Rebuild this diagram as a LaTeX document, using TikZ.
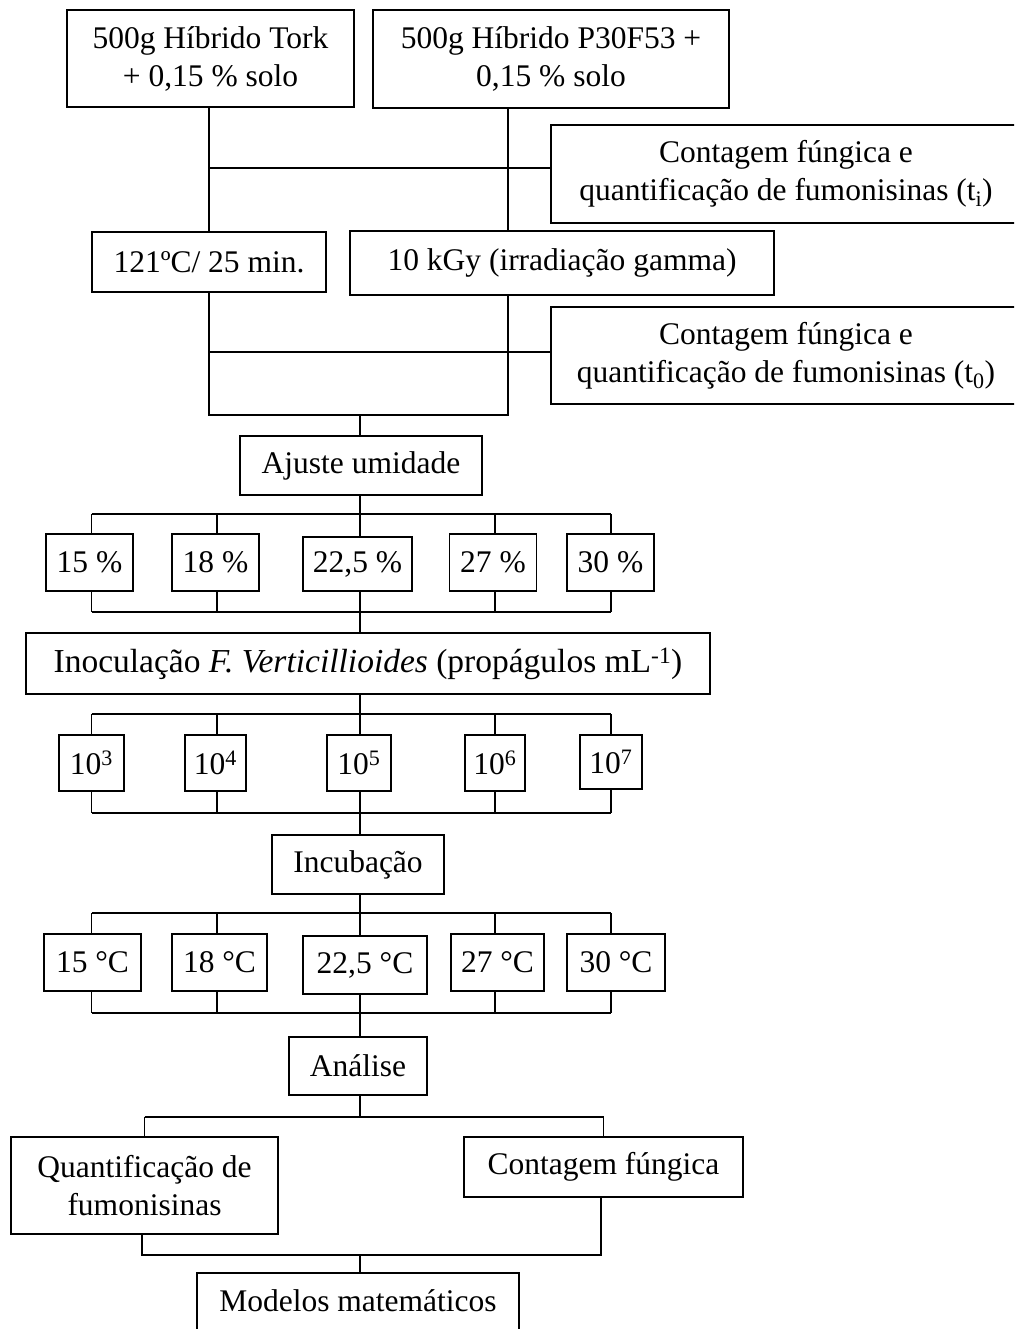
\documentclass[tikz,border=0pt]{standalone}
\usepackage{fontspec}
\setmainfont{Liberation Serif}
\begin{document}
\begin{tikzpicture}[x=1pt,y=-1pt,
  line width=1.6pt,
  every node/.style={font=\fontsize{31.5}{38}\selectfont},
  bx/.style={draw, line width=1.6pt, inner sep=0pt, align=center, minimum width=#1},
  bx/.default=10pt]
\useasboundingbox (0,0) rectangle (1014,1329);
\clip (0,0) rectangle (1014,1329);
% top boxes
\node[bx=287pt, minimum height=97pt] (A) at (210.5,58.5) {500g Híbrido Tork\\+ 0,15 \% solo};
\node[bx=356pt, minimum height=98pt] (B) at (551,59) {500g Híbrido P30F53 +\\0,15 \% solo};
\node[bx=470pt, minimum height=98pt] (C) at (786,174) {Contagem fúngica e\\quantificação de fumonisinas (t\textsubscript{i})};
\node[bx=234pt, minimum height=60pt] (D) at (209,262) {121ºC/ 25 min.};
\node[bx=424pt, minimum height=64pt] (E) at (562,263) {10 kGy (irradiação gamma)};
\node[bx=470pt, minimum height=97pt] (F) at (786,355.5) {Contagem fúngica e\\quantificação de fumonisinas (t\textsubscript{0})};
\node[bx=242pt, minimum height=59pt] (Aj) at (361,465.5) {Ajuste umidade};
% moisture
\node[bx=87pt, minimum height=57pt] (P1) at (89.5,562.5) {15 \%};
\node[bx=87pt, minimum height=57pt] (P2) at (215.5,562.5) {18 \%};
\node[bx=109pt, minimum height=54pt] (P3) at (357.5,564) {22,5 \%};
\node[bx=87pt, minimum height=57pt] (P4) at (493,562.5) {27 \%};
\node[bx=87pt, minimum height=57pt] (P5) at (610.5,562.5) {30 \%};
\node[bx=684pt, minimum height=61pt, font=\fontsize{33.5}{38}\selectfont] (In) at (368,663.5) {Inoculação \textit{F. Verticillioides} (propágulos mL\textsuperscript{-1})};
% concentrations
\node[bx=65pt, minimum height=56pt] (N3) at (91.5,763) {10\textsuperscript{3}};
\node[bx=61pt, minimum height=56pt] (N4) at (215.5,763) {10\textsuperscript{4}};
\node[bx=64.5pt, minimum height=56pt] (N5) at (359,763) {10\textsuperscript{5}};
\node[bx=60pt, minimum height=56pt] (N6) at (495,763) {10\textsuperscript{6}};
\node[bx=62pt, minimum height=54pt] (N7) at (611,762) {10\textsuperscript{7}};
\node[bx=172pt, minimum height=59pt] (Inc) at (358,864.5) {Incubação};
% temperatures
\node[bx=97pt, minimum height=57pt] (T1) at (92.5,962.5) {15 °C};
\node[bx=95pt, minimum height=57pt] (T2) at (219.5,962.5) {18 °C};
\node[bx=124pt, minimum height=58pt] (T3) at (365,965) {22,5 °C};
\node[bx=93pt, minimum height=57pt] (T4) at (497.5,962.5) {27 °C};
\node[bx=98pt, minimum height=57pt] (T5) at (616,962.5) {30 °C};
\node[bx=138pt, minimum height=58pt] (An) at (358,1066) {Análise};
\node[bx=267pt, minimum height=97pt] (Q) at (144.5,1185.5) {Quantificação de\\fumonisinas};
\node[bx=279pt, minimum height=60pt] (CF) at (603.5,1167) {Contagem fúngica};
\node[bx=322pt, minimum height=62pt] (Mo) at (358,1304) {\raisebox{7pt}{Modelos matemáticos}};
% coordinates
\coordinate (cA) at (209,0);
\coordinate (cB) at (508,0);
\coordinate (h1) at (0,168);
\coordinate (h2) at (0,352);
\coordinate (u) at (0,415);
\coordinate (ax) at (360,0);
\coordinate (k1) at (91.5,0);
\coordinate (k2) at (217,0);
\coordinate (k4) at (495,0);
\coordinate (k5) at (611,0);
\coordinate (b1) at (0,514);
\coordinate (b2) at (0,612);
\coordinate (b3) at (0,714);
\coordinate (b4) at (0,813);
\coordinate (b5) at (0,913);
\coordinate (b6) at (0,1013);
\coordinate (b7) at (0,1117);
\coordinate (b8) at (0,1255);
\coordinate (qb) at (142,0);
\coordinate (cfb) at (601,0);
% top connectors
\draw (A.south -| cA) -- (D.north -| cA);
\draw (B.south -| cB) -- (E.north -| cB);
\draw (cA |- h1) -- (C.west |- h1);
\draw (D.south -| cA) -- (cA |- u) -- (cB |- u) -- (E.south -| cB);
\draw (cA |- h2) -- (F.west |- h2);
\draw (ax |- u) -- (Aj.north -| ax);
% moisture level
\draw (Aj.south -| ax) -- (ax |- b1);
\draw (k1 |- b1) -- (k5 |- b1);
\draw (k1 |- b2) -- (k5 |- b2);
\foreach \k/\n in {k1/P1,k2/P2,ax/P3,k4/P4,k5/P5}{
  \draw (\k |- b1) -- (\n.north -| \k);
  \draw (\n.south -| \k) -- (\k |- b2);
}
\draw (ax |- b2) -- (In.north -| ax);
% concentration level
\draw (In.south -| ax) -- (ax |- b3);
\draw (k1 |- b3) -- (k5 |- b3);
\draw (k1 |- b4) -- (k5 |- b4);
\foreach \k/\n in {k1/N3,k2/N4,ax/N5,k4/N6,k5/N7}{
  \draw (\k |- b3) -- (\n.north -| \k);
  \draw (\n.south -| \k) -- (\k |- b4);
}
\draw (ax |- b4) -- (Inc.north -| ax);
% temperature level
\draw (Inc.south -| ax) -- (ax |- b5);
\draw (k1 |- b5) -- (k5 |- b5);
\draw (k1 |- b6) -- (k5 |- b6);
\foreach \k/\n in {k1/T1,k2/T2,ax/T3,k4/T4,k5/T5}{
  \draw (\k |- b5) -- (\n.north -| \k);
  \draw (\n.south -| \k) -- (\k |- b6);
}
\draw (ax |- b6) -- (An.north -| ax);
% analysis
\draw (An.south -| ax) -- (ax |- b7);
\draw (Q.north |- b7) -- (CF.north |- b7);
\draw (Q.north |- b7) -- (Q.north);
\draw (CF.north |- b7) -- (CF.north);
\draw (Q.south -| qb) -- (qb |- b8) -- (cfb |- b8) -- (CF.south -| cfb);
\draw (ax |- b8) -- (Mo.north -| ax);
\end{tikzpicture}
\end{document}
